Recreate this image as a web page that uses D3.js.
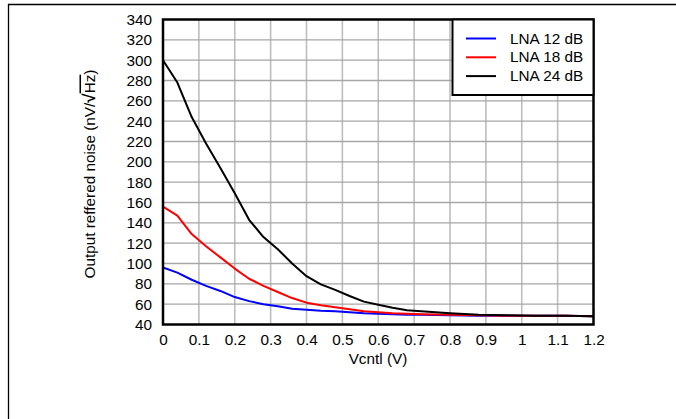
<!DOCTYPE html>
<html><head><meta charset="utf-8">
<script src="https://cdn.jsdelivr.net/npm/d3@7"></script>
<style>body{margin:0;background:#fff}svg{display:block}text{font-family:"Liberation Sans",Arial,sans-serif}</style>
</head><body><svg id="c" width="676" height="419"></svg>
<script>
const vcntl = [0,0.04,0.08,0.12,0.16,0.2,0.24,0.28,0.32,0.36,0.4,0.44,0.48,0.52,0.56,0.6,0.64,0.68,0.72,0.8,0.88,0.96,1.04,1.12,1.2];
const lna12 = [96,91,84,78,73,67,63,60,58,55.5,54.5,53.5,53,52,51,50.5,50,49.5,49.5,49,48.5,48.5,48.5,48.5,48];
const lna18 = [156,147,129,117,106,95,85,78,72,66,61.5,59,57,55,53,52,51,50.5,50,49.5,49,48.5,48.5,48.5,48];
const lna24 = [300,278,244,218,194,169,143,126,114,100,87.5,79.5,74,68,62.5,59.5,56.5,54,53,51,49.5,49,48.5,48.5,48];
const seriesNames = ["LNA 12 dB","LNA 18 dB","LNA 24 dB"];
const seriesColors = ["#0000ff","#ff0000","#000000"];
const xTicks = [0,0.1,0.2,0.3,0.4,0.5,0.6,0.7,0.8,0.9,1,1.1,1.2];
const yTicks = [40,60,80,100,120,140,160,180,200,220,240,260,280,300,320,340];

const FS = "15.3px";
const svg = d3.select("#c");
const L=163,R=593.5,T=19.5,B=324.5;
const x = d3.scaleLinear().domain([0,1.2]).range([L,R]);
const y = d3.scaleLinear().domain([40,340]).range([B,T]);

// outer frame (top + left)
svg.append("line").attr("x1",8).attr("x2",676).attr("y1",4.5).attr("y2",4.5).attr("stroke","#000").attr("stroke-width",1.3);
svg.append("line").attr("x1",8.5).attr("x2",8.5).attr("y1",4).attr("y2",419).attr("stroke","#000").attr("stroke-width",1.3);

// grid
svg.append("g").selectAll("line").data(xTicks.slice(1,-1)).join("line")
  .attr("x1",d=>x(d)).attr("x2",d=>x(d)).attr("y1",T).attr("y2",B)
  .attr("stroke","#bdbdbd").attr("stroke-width",1.6);
svg.append("g").selectAll("line").data(yTicks.slice(1,-1)).join("line")
  .attr("x1",L).attr("x2",R).attr("y1",d=>y(d)).attr("y2",d=>y(d))
  .attr("stroke","#a6a6a6").attr("stroke-width",1.3);

// axes labels via d3 axes
const yAxis = svg.append("g").attr("transform",`translate(${L},0)`)
  .call(d3.axisLeft(y).tickValues(yTicks).tickSize(0).tickPadding(11).tickFormat(d3.format("d")));
const xAxis = svg.append("g").attr("transform",`translate(0,${B})`)
  .call(d3.axisBottom(x).tickValues(xTicks).tickSize(0).tickPadding(10).tickFormat(d=>String(+d.toFixed(1))));
[yAxis,xAxis].forEach(a=>{a.select(".domain").remove();a.selectAll("text").attr("font-size",FS).attr("fill","#000").attr("font-family","Liberation Sans, Arial, sans-serif");});

// curves
const data=[lna12,lna18,lna24];
const line = d3.line().x((d,i)=>x(vcntl[i])).y(d=>y(d));
data.forEach((s,k)=>{
  svg.append("path").datum(s).attr("d",line).attr("fill","none")
    .attr("stroke",seriesColors[k]).attr("stroke-width",2).attr("stroke-linejoin","round");
});

// plot border
svg.append("rect").attr("x",L).attr("y",T).attr("width",R-L).attr("height",B-T)
  .attr("fill","none").attr("stroke","#000").attr("stroke-width",2.5);

// titles
svg.append("text").attr("x",378).attr("y",364).attr("text-anchor","middle").attr("font-size",FS).text("Vcntl (V)");
const yt = svg.append("text").attr("transform","translate(94.5,174) rotate(-90)").attr("text-anchor","middle").attr("font-size",FS);
yt.append("tspan").text("Output reffered noise (nV/");
yt.append("tspan").attr("font-weight","bold").attr("font-size","17px").text("\u221A");
yt.append("tspan").attr("text-decoration","overline").text("Hz");
yt.append("tspan").text(")");

// legend
const lg = svg.append("g");
lg.append("rect").attr("x",452.5).attr("y",19.5).attr("width",R-452.5).attr("height",75.5)
  .attr("fill","#fff").attr("stroke","#000").attr("stroke-width",2);
seriesNames.forEach((n,i)=>{
  const yy = 38.5 + i*18.8;
  lg.append("line").attr("x1",466).attr("x2",496).attr("y1",yy).attr("y2",yy).attr("stroke",seriesColors[i]).attr("stroke-width",2);
  lg.append("text").attr("x",510).attr("y",yy+5).attr("font-size",FS).text(n);
});
</script></body></html>
